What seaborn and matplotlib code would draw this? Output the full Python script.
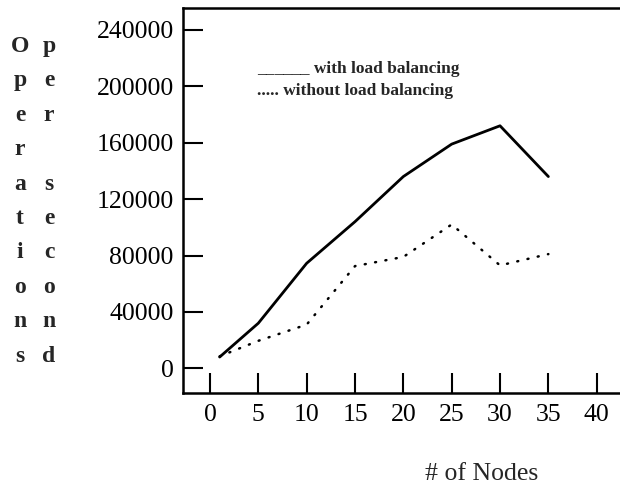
import matplotlib
matplotlib.use("Agg")
import matplotlib.pyplot as plt
import numpy as np
import pandas as pd
import seaborn as sns

# ── data ────────────────────────────────────────────────────────────────
NODES = [1, 5, 10, 15, 20, 25, 30, 35]
WITH_LB = [8000, 32000, 74500, 104000, 136000, 159000, 172000, 136000]
WITHOUT_LB = [8500, 19500, 31000, 72500, 79000, 102000, 73000, 81000]

X_TICKS = list(range(0, 45, 5))
Y_TICKS = list(range(0, 280000, 40000))

YLABEL_LEFT = "Operations"
YLABEL_RIGHT = "per second"

df = pd.DataFrame({
    "nodes": NODES + NODES,
    "ops": WITH_LB + WITHOUT_LB,
    "mode": ["with"] * len(NODES) + ["without"] * len(NODES),
})

sns.set_style("ticks")
plt.rcParams["font.family"] = ["Liberation Serif", "DejaVu Serif"]

fig = plt.figure(figsize=(6.2, 4.84), dpi=100)
ax = fig.add_axes([0.2947, 0.1886, 0.7053, 0.7942])

sns.lineplot(data=df[df["mode"] == "with"], x="nodes", y="ops",
             color="black", linewidth=2.0, ax=ax)
sns.lineplot(data=df[df["mode"] == "without"], x="nodes", y="ops",
             color="black", linewidth=1.8, ax=ax)
# dotted pattern for the second series
ax.lines[1].set_dashes((0.4, 3.8))
ax.lines[1].set_dash_capstyle("round")

ax.set_xlim(-2.82, 42.41)
ax.set_ylim(-17300, 255300)
ax.set_xticks(X_TICKS)
ax.set_yticks(Y_TICKS)
ax.set_xticklabels([str(v) for v in X_TICKS])
ax.set_yticklabels([str(v) for v in Y_TICKS])
ax.tick_params(axis="both", direction="in", length=14.4, width=1.5,
               labelsize=18.5, colors="black")
ax.tick_params(axis="x", pad=8)
ax.tick_params(axis="y", pad=6.5)

for side in ["left", "bottom", "top"]:
    ax.spines[side].set_linewidth(1.8)
    ax.spines[side].set_color("black")
ax.spines["right"].set_visible(False)

ax.set_ylabel("")
ax.set_xlabel("# of Nodes", fontsize=18.5, va="baseline")
ax.xaxis.set_label_coords(0.684, -0.227)

# legend written as plain text, like the original
ax.text(0.1706, 0.831, "______ with load balancing", transform=ax.transAxes,
        fontsize=12.5, fontweight="bold", va="baseline", ha="left")
ax.text(0.1706, 0.7745, "..... without load balancing", transform=ax.transAxes,
        fontsize=12.5, fontweight="bold", va="baseline", ha="left")

# stacked y-axis caption, two columns of letters
for col_x, word in [(20, YLABEL_LEFT), (49, YLABEL_RIGHT)]:
    for k, ch in enumerate(word):
        if ch == " ":
            continue
        base_px = 52 + 34.4 * k
        fig.text(col_x / 620, 1 - base_px / 484, ch, fontsize=17,
                 fontweight="bold", ha="center", va="baseline")

fig.savefig("out.png", dpi=100)
